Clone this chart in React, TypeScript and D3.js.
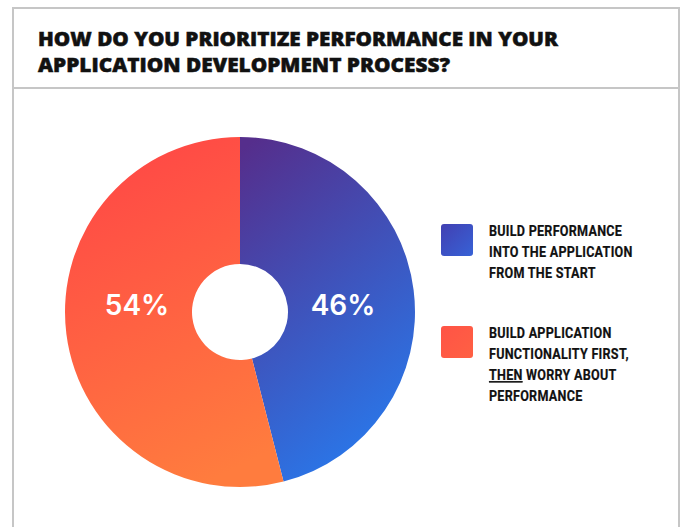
import React from "react";
import * as d3 from "d3";

const titleLines = ["HOW DO YOU PRIORITIZE PERFORMANCE IN YOUR", "APPLICATION DEVELOPMENT PROCESS?"];
const titleWidths = [520, 412];
const categories = ["Build performance into the application from the start", "Build application functionality first, then worry about performance"];
const values = [46, 54];
const legendLines: string[][] = [
  ["BUILD PERFORMANCE", "INTO THE APPLICATION", "FROM THE START"],
  ["BUILD APPLICATION", "FUNCTIONALITY FIRST,", "|THEN| WORRY ABOUT", "PERFORMANCE"],
];
const gradients = [
  { id: "gBlue", from: "#552e8c", to: "#2a76e8", x1: "0.1", y1: "0", x2: "0.5", y2: "1" },
  { id: "gRed", from: "#ff4746", to: "#ff7c3e", x1: "0.3", y1: "0", x2: "0.6", y2: "1" },
];
const legendGradients = [
  { id: "lBlue", from: "#4240b2", to: "#3762d6" },
  { id: "lRed", from: "#ff5446", to: "#ff6043" },
];

export default function App() {
  const W = 683, H = 527;
  const cx = 240, cy = 312, R = 175, r = 48;
  const pie = d3.pie<number>().sort(null).value((d) => d);
  const arcs = pie(values);
  const arcGen = d3.arc<d3.PieArcDatum<number>>().innerRadius(r).outerRadius(R);
  const legendFont = "Roboto, sans-serif";
  const legendY = [236, 338];
  const sx = 0.84;

  return (
    <svg width={W} height={H} style={{ position: "absolute", left: 0, top: 0 }}>
      <defs>
        {gradients.map((g) => (
          <linearGradient key={g.id} id={g.id} x1={g.x1} y1={g.y1} x2={g.x2} y2={g.y2}>
            <stop offset="0%" stopColor={g.from} />
            <stop offset="100%" stopColor={g.to} />
          </linearGradient>
        ))}
        {legendGradients.map((g) => (
          <linearGradient key={g.id} id={g.id} x1="0" y1="0" x2="1" y2="1">
            <stop offset="0%" stopColor={g.from} />
            <stop offset="100%" stopColor={g.to} />
          </linearGradient>
        ))}
      </defs>
      <rect x={0} y={0} width={W} height={H} fill="#fff" />
      <path d={`M13,${H} L13,8 L679,8 L679,${H}`} fill="none" stroke="#c6c6c6" strokeWidth={2} />
      <line x1={13} x2={679} y1={88} y2={88} stroke="#c6c6c6" strokeWidth={2} />
      {titleLines.map((t, i) => (
        <text key={i} x={38} y={46 + i * 26} fontFamily="'Open Sans', Roboto, sans-serif" fontWeight={800} fontSize={19.5}
          fill="#111" stroke="#111" strokeWidth={0.5} textLength={titleWidths[i]} lengthAdjust="spacingAndGlyphs">
          {t}
        </text>
      ))}
      <g transform={`translate(${cx},${cy})`}>
        {arcs.map((a, i) => (
          <path key={i} d={arcGen(a) || ""} fill={`url(#${gradients[i].id})`} />
        ))}
        {arcs.map((a, i) => {
          const mid = (a.startAngle + a.endAngle) / 2;
          return (
            <text key={"l" + i} x={Math.sin(mid) > 0 ? 103 : -103} y={3} textAnchor="middle" fontFamily="Inter, Roboto, sans-serif" fontWeight={600} fontSize={28} fill="#fff">
              {values[i]}%
            </text>
          );
        })}
      </g>
      {categories.map((c, i) => (
        <g key={c}>
          <rect x={441} y={legendY[i] - 12} width={32} height={32} rx={3} fill={`url(#${legendGradients[i].id})`} />
          <g transform={`translate(489,0) scale(${sx},1)`}>
            {legendLines[i].map((line, j) => {
              const parts = line.split("|");
              return (
                <text key={j} x={0} y={legendY[i] + j * 21} fontFamily={legendFont} fontWeight={700} fontSize={15} fill="#111"
                  stroke="#111" strokeWidth={0.2} letterSpacing={0.3}>
                  {parts.map((p, k) =>
                    k % 2 === 1 ? (
                      <tspan key={k} textDecoration="underline" style={{ textDecoration: "underline" }}>{p}</tspan>
                    ) : (
                      <tspan key={k}>{p}</tspan>
                    )
                  )}
                </text>
              );
            })}
          </g>
        </g>
      ))}
    </svg>
  );
}
